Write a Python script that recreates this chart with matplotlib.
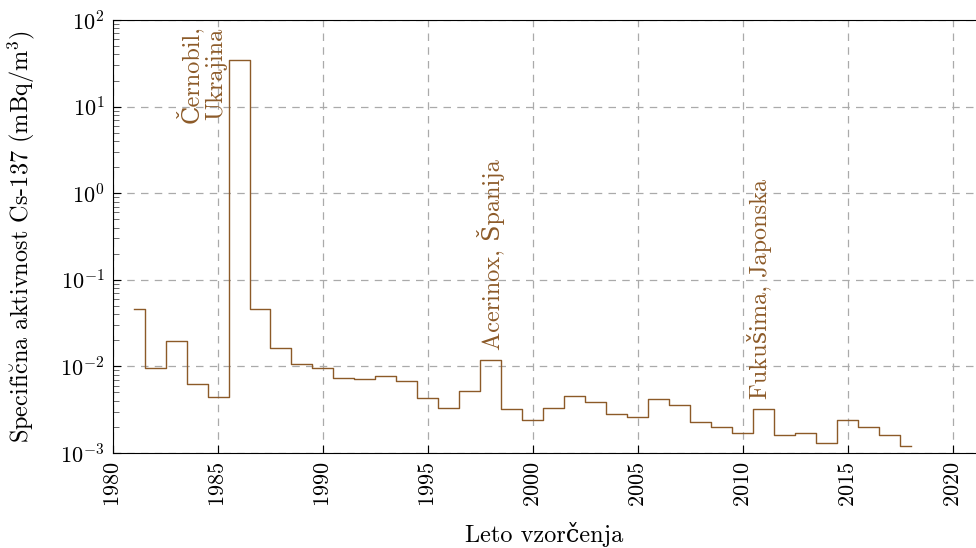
import numpy as np
import matplotlib
matplotlib.use('Agg')
import matplotlib.pyplot as plt
from matplotlib.ticker import LogLocator, NullFormatter

plt.rcParams['font.family'] = ['cmr10', 'DejaVu Serif']
plt.rcParams['mathtext.fontset'] = 'cm'
plt.rcParams['axes.formatter.use_mathtext'] = True
plt.rcParams['font.size'] = 16

# leta vzorcenja in izmerjene aktivnosti (mBq/m3)
leta = np.arange(1981, 2019)
aktivnost = [0.0456, 0.0097, 0.0198, 0.0063, 0.0044, 34.2, 0.0464, 0.0162,
             0.0106, 0.0095, 0.0073, 0.0071, 0.0078, 0.0067, 0.0043, 0.0033,
             0.0052, 0.0118, 0.0032, 0.0024, 0.0033, 0.0045, 0.0039, 0.0028,
             0.0026, 0.0042, 0.0036, 0.0023, 0.0020, 0.0017, 0.0032, 0.0016,
             0.0017, 0.0013, 0.0024, 0.0020, 0.0016, 0.0012]

dogodki = ['Černobil,\nUkrajina', 'Acerinox, Španija', 'Fukušima, Japonska']
dogodki_x = [1984.2, 1998.0, 2010.8]
dogodki_y = [6.5, 0.0155, 0.0042]

barva = '#8c5a28'

fig = plt.figure(figsize=(9.76, 5.48), dpi=100)
ax = fig.add_axes([0.1158, 0.1734, 0.8842, 0.7901])

ax.step(leta, aktivnost, where='mid', color=barva, lw=1.0)

for t, x, y in zip(dogodki, dogodki_x, dogodki_y):
    ax.text(x, y, t, rotation=90, ha='center', va='bottom', color=barva,
            fontsize=17.5, linespacing=1.1)

ax.set_yscale('log')
ax.set_ylim(1e-3, 1e2)
ax.set_xlim(1980, 2021.1)
ax.set_xticks(np.arange(1980, 2021, 5))
ax.yaxis.set_minor_locator(LogLocator(base=10, subs=np.arange(2, 10)))
ax.yaxis.set_minor_formatter(NullFormatter())
ax.tick_params(axis='x', rotation=90, direction='in', length=6, pad=6)
ax.tick_params(axis='y', which='major', direction='in', length=6, pad=6)
ax.tick_params(axis='y', which='minor', direction='in', length=4, color='#555555')
ax.grid(True, which='major', ls=(0, (6, 5)), color='#aaaaaa', lw=0.9)
ax.spines['right'].set_visible(False)

ax.set_xlabel('Leto vzorčenja', fontsize=17.5, labelpad=11)
ax.set_ylabel(r'Specifi$\breve{\mathrm{c}}$na aktivnost Cs-137 (mBq/m$^3$)',
              fontsize=17.5, labelpad=17)

fig.savefig('out.png', dpi=100)
